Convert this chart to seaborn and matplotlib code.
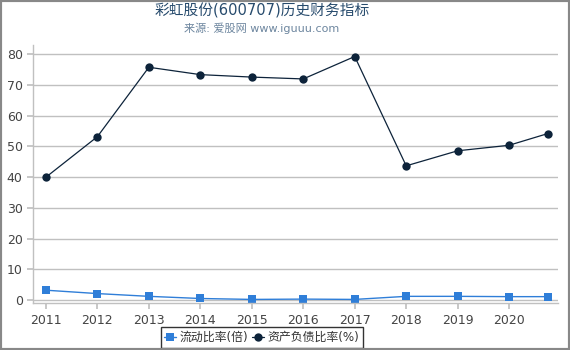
import matplotlib
matplotlib.use("Agg")
import matplotlib.pyplot as plt
import seaborn as sns
import pandas as pd
from matplotlib.patches import Rectangle

years = [2011, 2012, 2013, 2014, 2015, 2016, 2017, 2018, 2019, 2020, 2020.75]
current_ratio = [3.2, 2.1, 1.2, 0.5, 0.2, 0.3, 0.2, 1.2, 1.2, 1.1, 1.1]
debt_ratio = [40.0, 53.2, 75.8, 73.4, 72.6, 72.0, 79.3, 43.7, 48.6, 50.4, 54.2]
tick_years = [2011, 2012, 2013, 2014, 2015, 2016, 2017, 2018, 2019, 2020]

sns.set_theme(style="white")
plt.rcParams["font.family"] = ["DejaVu Sans", "Noto Sans CJK SC"]

df = pd.DataFrame({"year": years, "cr": current_ratio, "dr": debt_ratio})

fig = plt.figure(figsize=(5.7, 3.5), dpi=100)
ax = fig.add_axes([0.058, 0.134, 0.921, 0.737])

blue = "#2f7ed8"
navy = "#0d233a"
sns.lineplot(data=df, x="year", y="cr", ax=ax, color=blue, marker="s",
             markersize=6, markeredgewidth=0, linewidth=1, label="流动比率(倍)")
sns.lineplot(data=df, x="year", y="dr", ax=ax, color=navy, marker="o",
             markersize=6, markeredgewidth=0, linewidth=0.9, label="资产负债比率(%)")

ax.set_xlim(2010.75, 2020.95)
ax.set_ylim(-1, 83)
ax.set_xticks(tick_years)
ax.set_xticklabels([str(y) for y in tick_years])
ax.set_yticks(range(0, 81, 10))
ax.set_xlabel("")
ax.set_ylabel("")
ax.yaxis.grid(True, color="#c0c0c0", linewidth=1)
ax.xaxis.grid(False)
for s in ["top", "right"]:
    ax.spines[s].set_visible(False)
for s in ["left", "bottom"]:
    ax.spines[s].set_color("#c0c0c0")
    ax.spines[s].set_linewidth(1)
ax.tick_params(axis="both", labelsize=9, colors="#444444", length=4)
ax.tick_params(axis="x", bottom=True, color="#c0c0c0")
ax.tick_params(axis="y", left=True, color="#c0c0c0")
for lbl in ax.get_xticklabels() + ax.get_yticklabels():
    lbl.set_color("#444444")

leg = ax.legend(loc="center", bbox_to_anchor=(262 / 570, 12.5 / 350),
                bbox_transform=fig.transFigure, ncol=2, fontsize=8.6,
                frameon=True, fancybox=False, handlelength=1.0,
                handletextpad=0.3, columnspacing=0.3, borderpad=0.3)
leg.get_frame().set_edgecolor("black")
leg.get_frame().set_linewidth(1)
for t in leg.get_texts():
    t.set_color("#333333")

fig.text(262 / 570, 0.968, "彩虹股份(600707)历史财务指标", ha="center", va="center",
         fontsize=10.6, color="#274b6d")
fig.text(262 / 570, 0.918, "来源: 爱股网 www.iguuu.com", ha="center", va="center",
         fontsize=8, color="#6d869f")

fig.patches.append(Rectangle((0, 0), 1, 1, transform=fig.transFigure, fill=False,
                             edgecolor="#888888", linewidth=3))

fig.savefig("out.png", dpi=100)
